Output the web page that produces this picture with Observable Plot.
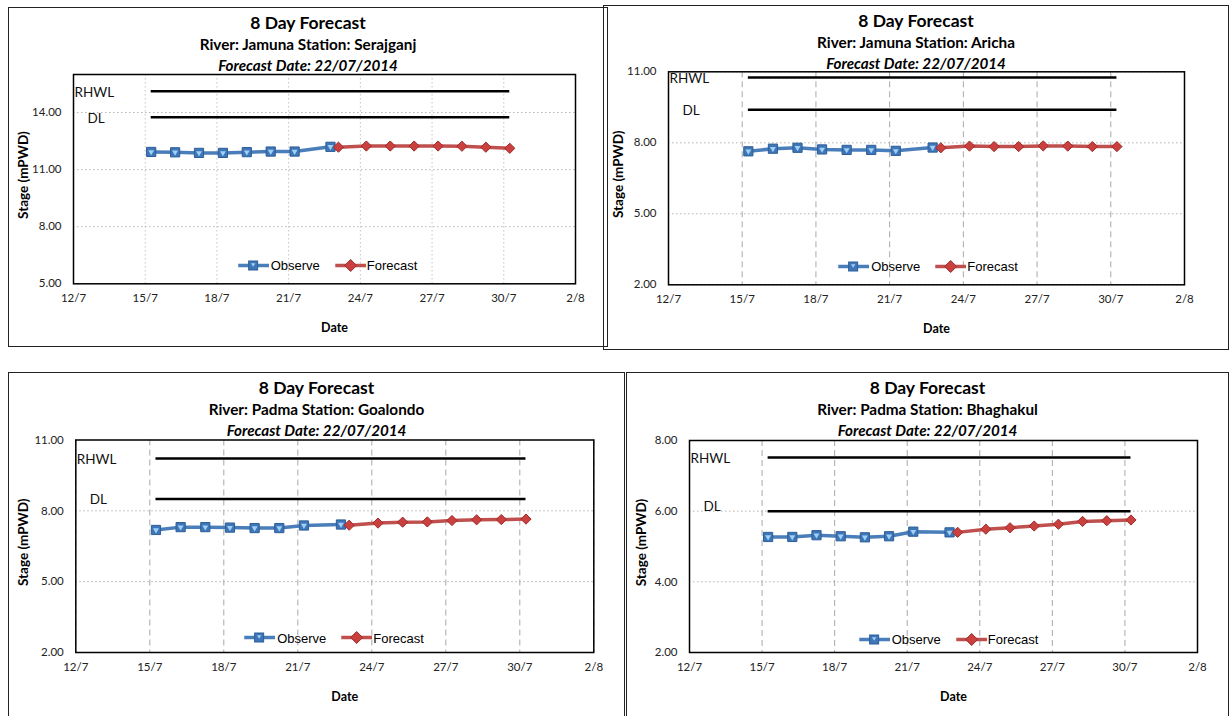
<!DOCTYPE html>
<html>
<head>
<meta charset="utf-8">
<script src="https://cdn.jsdelivr.net/npm/d3@7"></script>
<script src="https://cdn.jsdelivr.net/npm/@observablehq/plot@0.6"></script>
<style>
  body { margin: 0; background: #fff; }
  #page { position: relative; width: 1231px; height: 716px; overflow: hidden; background: #fff; }
  .panel { position: absolute; }
  .panel svg { display: block; }
  .border { position: absolute; border: 1.5px solid #222; box-sizing: border-box; pointer-events: none; z-index: 5; }
  .t { position: absolute; left: 0; right: 0; text-align: center; font-family: Lato, "Open Sans", sans-serif; font-weight: bold; color: #000; transform: translateY(-50%); white-space: nowrap; z-index: 3; }
  .t1 { font-size: 17.5px; }
  .t2 { font-size: 15.3px; }
  .t3 { font-size: 15.2px; font-style: italic; }
  .legend { position: absolute; display: flex; align-items: center; font-family: "Liberation Sans", Arial, sans-serif; font-size: 13px; color: #000; transform: translate(-50%, -50%); white-space: nowrap; z-index: 3; }
  .legend svg { display: block; }
</style>
</head>
<body>
<div id="page"></div>
<script>
// ---------- DATA ----------
const forecastTitle = "8 Day Forecast";
const forecastDate = "Forecast Date: 22/07/2014";
const rivers = ["Jamuna", "Jamuna", "Padma", "Padma"];
const stations = ["Serajganj", "Aricha", "Goalondo", "Bhaghakul"];

const observedDates = ["2014-07-15T06:00Z", "2014-07-16T06:00Z", "2014-07-17T06:00Z", "2014-07-18T06:00Z",
  "2014-07-19T06:00Z", "2014-07-20T06:00Z", "2014-07-21T06:00Z", "2014-07-22T18:00Z"];
const forecastDates = ["2014-07-23T02:00Z", "2014-07-24T06:00Z", "2014-07-25T06:00Z", "2014-07-26T06:00Z",
  "2014-07-27T06:00Z", "2014-07-28T06:00Z", "2014-07-29T06:00Z", "2014-07-30T06:00Z"];

const xTickDates = ["2014-07-12", "2014-07-15", "2014-07-18", "2014-07-21", "2014-07-24", "2014-07-27", "2014-07-30", "2014-08-02"];
const xTickLabels = ["12/7", "15/7", "18/7", "21/7", "24/7", "27/7", "30/7", "2/8"];

const serajganjObserved = [11.93, 11.91, 11.88, 11.88, 11.92, 11.95, 11.95, 12.20];
const serajganjForecast = [12.18, 12.24, 12.24, 12.24, 12.24, 12.23, 12.18, 12.12];
const arichaObserved = [7.64, 7.75, 7.79, 7.72, 7.70, 7.70, 7.66, 7.80];
const arichaForecast = [7.79, 7.86, 7.84, 7.84, 7.87, 7.86, 7.84, 7.84];
const goalondoObserved = [7.19, 7.31, 7.31, 7.29, 7.27, 7.27, 7.38, 7.42];
const goalondoForecast = [7.39, 7.48, 7.52, 7.53, 7.59, 7.62, 7.63, 7.65];
const bhaghakulObserved = [5.27, 5.27, 5.32, 5.29, 5.26, 5.29, 5.42, 5.40];
const bhaghakulForecast = [5.40, 5.49, 5.53, 5.58, 5.63, 5.71, 5.73, 5.75];

const rhwlLevels = [15.12, 10.76, 10.22, 7.52];
const dangerLevels = [13.75, 9.40, 8.50, 6.00];

const yDomains = [[5, 16], [2, 11], [2, 11], [2, 8]];
const yTickValues = [[5, 8, 11, 14], [2, 5, 8, 11], [2, 5, 8, 11], [2, 4, 6, 8]];

const observedSeries = [serajganjObserved, arichaObserved, goalondoObserved, bhaghakulObserved];
const forecastSeries = [serajganjForecast, arichaForecast, goalondoForecast, bhaghakulForecast];

// ---------- LAYOUT (page pixels) ----------
const layout = [
  {left: 8,   top: 7,   w: 600, h: 340, ml: 65,   mr: 33,   mt: 67,   mb: 63.7, vDash: "1.5,2.5", vColor: "#c4c4c4", legX: 319.5, legY: 258, border: [8, 7, 600, 340]},
  {left: 603, top: 5,   w: 626, h: 345, ml: 65,   mr: 45,   mt: 66.3, mb: 65.7, vDash: "6,4",     vColor: "#a8a8a8", legX: 325,   legY: 261, border: [603, 5, 626, 345]},
  {left: 8,   top: 372, w: 617, h: 348, ml: 67.3, mr: 31.7, mt: 67.5, mb: 68,   vDash: "6,4",     vColor: "#a8a8a8", legX: 326,   legY: 265.7, border: [8, 372, 617, 360]},
  {left: 626, top: 372, w: 603, h: 348, ml: 63,   mr: 32,   mt: 68,   mb: 68,   vDash: "6,4",     vColor: "#a8a8a8", legX: 322.5, legY: 267, border: [626, 372, 603, 360]}
];

const blue = "#4A7EBB", blueFill = "#3F76B8", blueEdge = "#2D5E98";
const red = "#C0504D", redFill = "#C9403E", redEdge = "#9E2B2A";

const tickLabelOf = new Map(xTickDates.map((d, k) => [+new Date(d), xTickLabels[k]]));
const xTicks = xTickDates.map(d => new Date(d));

const page = document.getElementById("page");

function legendHTML() {
  const sq = `<svg width="31" height="14"><line x1="0" y1="7" x2="31" y2="7" stroke="${blue}" stroke-width="3.5"/><rect x="10.5" y="2.5" width="9" height="9" fill="${blueFill}" stroke="${blueEdge}"/><path d="M12.8,4.8 L17.2,4.8 L15,8.2 Z" fill="#9FD0F5"/></svg>`;
  const dm = `<svg width="31" height="14"><line x1="0" y1="7" x2="31" y2="7" stroke="${red}" stroke-width="3.5"/><path d="M15.5,1 L21.5,7 L15.5,13 L9.5,7 Z" fill="${redFill}" stroke="${redEdge}"/></svg>`;
  return `${sq}<span style="margin-left:2px;margin-right:15px">Observe</span>${dm}<span style="margin-left:1px">Forecast</span>`;
}

for (let i = 0; i < 4; i++) {
  const L = layout[i];
  const obs = observedDates.map((d, k) => ({date: new Date(d), v: observedSeries[i][k]}));
  const fc = forecastDates.map((d, k) => ({date: new Date(d), v: forecastSeries[i][k]}));
  const start = new Date(observedDates[0]);
  const end = new Date(forecastDates[forecastDates.length - 1]);
  const rhwl = [{x1: start, x2: end, y: rhwlLevels[i], label: "RHWL"}];
  const dl = [{x1: start, x2: end, y: dangerLevels[i], label: "DL"}];

  const chart = Plot.plot({
    width: L.w,
    height: L.h,
    marginLeft: L.ml,
    marginRight: L.mr,
    marginTop: L.mt,
    marginBottom: L.mb,
    style: {fontFamily: "Lato, 'Open Sans', sans-serif", fontSize: "11.5px", color: "#222", background: "transparent", overflow: "visible"},
    x: {type: "utc", domain: [xTicks[0], xTicks[xTicks.length - 1]], ticks: xTicks,
        tickFormat: d => tickLabelOf.get(+d), tickSize: 0, tickPadding: 10, label: null},
    y: {domain: yDomains[i], ticks: yTickValues[i], tickFormat: d => d.toFixed(2), tickSize: 0, tickPadding: 12, label: null},
    marks: [
      Plot.ruleX(xTicks, {stroke: L.vColor, strokeDasharray: L.vDash, strokeWidth: 1}),
      Plot.ruleY(yTickValues[i], {stroke: "#b4b4b4", strokeDasharray: "1.5,2.5", strokeWidth: 1}),
      Plot.frame({stroke: "#000", strokeWidth: 1.5}),
      Plot.ruleY(rhwl, {y: "y", x1: "x1", x2: "x2", stroke: "#000", strokeWidth: 2.5}),
      Plot.ruleY(dl, {y: "y", x1: "x1", x2: "x2", stroke: "#000", strokeWidth: 2.5}),
      Plot.text(rhwl, {y: "y", text: "label", frameAnchor: "left", textAnchor: "start", dx: 1, dy: 1, fontSize: 13.5, fill: "#111"}),
      Plot.text(dl, {y: "y", text: "label", frameAnchor: "left", textAnchor: "start", dx: 14, dy: i === 3 ? -4 : 1, fontSize: 13.5, fill: "#111"}),
      Plot.text(["Stage (mPWD)"], {text: d => d, frameAnchor: "left", textAnchor: "middle", rotate: -90, dx: -(L.ml - 15), dy: -4, fontWeight: "bold", fontSize: 13.5, fill: "#000"}),
      Plot.text(["Date"], {text: d => d, frameAnchor: "bottom", textAnchor: "middle", dx: 10, dy: 48, fontWeight: "bold", fontSize: 12.5, fill: "#000"}),
      Plot.line(obs, {x: "date", y: "v", stroke: blue, strokeWidth: 3.5}),
      Plot.dot(obs, {x: "date", y: "v", symbol: "square", r: 5.2, fill: blueFill, stroke: blueEdge, strokeWidth: 1}),
      Plot.dot(obs, {x: "date", y: "v", symbol: "triangle", rotate: 180, r: 2.2, fill: "#9FD0F5"}),
      Plot.line(fc, {x: "date", y: "v", stroke: red, strokeWidth: 3.5}),
      Plot.dot(fc, {x: "date", y: "v", symbol: "diamond2", r: 4.6, fill: redFill, stroke: redEdge, strokeWidth: 1})
    ]
  });

  const panel = document.createElement("div");
  panel.className = "panel";
  panel.style.left = L.left + "px";
  panel.style.top = L.top + "px";
  panel.style.width = L.w + "px";
  panel.style.height = L.h + "px";
  panel.appendChild(chart);

  const titles = [[forecastTitle, "t1", 15], [`River: ${rivers[i]} Station: ${stations[i]}`, "t2", 37], [forecastDate, "t3", 58]];
  for (const [txt, cls, y] of titles) {
    const d = document.createElement("div");
    d.className = "t " + cls;
    d.style.top = y + "px";
    d.textContent = txt;
    panel.appendChild(d);
  }
  const leg = document.createElement("div");
  leg.className = "legend";
  leg.style.left = L.legX + "px";
  leg.style.top = L.legY + "px";
  leg.innerHTML = legendHTML();
  panel.appendChild(leg);
  page.appendChild(panel);

  const b = document.createElement("div");
  b.className = "border";
  b.style.left = L.border[0] + "px";
  b.style.top = L.border[1] + "px";
  b.style.width = L.border[2] + "px";
  b.style.height = L.border[3] + "px";
  page.appendChild(b);
}
</script>
</body>
</html>
